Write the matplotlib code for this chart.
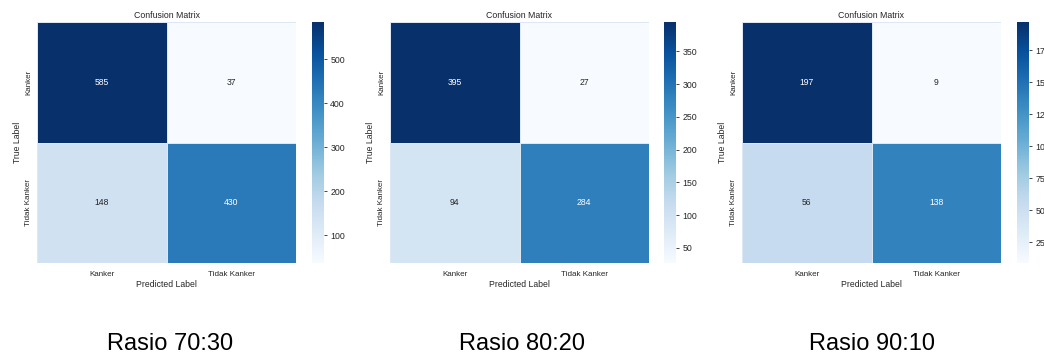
import numpy as np
import matplotlib
matplotlib.use("Agg")
import matplotlib.pyplot as plt
import seaborn as sns

# confusion matrices for each train/test split
labels = ["Kanker", "Tidak Kanker"]
cm_70_30 = [[585, 37], [148, 430]]
cm_80_20 = [[395, 27], [94, 284]]
cm_90_10 = [[197, 9], [56, 138]]
matrices = [cm_70_30, cm_80_20, cm_90_10]
captions = ["Rasio 70:30", "Rasio 80:20", "Rasio 90:10"]

plt.rcParams["font.family"] = ["Liberation Sans", "DejaVu Sans"]
TXT = "#262626"

W, H = 1044, 358
fig = plt.figure(figsize=(W / 100, H / 100), dpi=100)

hm_left = [37, 390, 742]
cb_left = [312, 664, 1017]
top, bottom = 22, 263

for i, cm in enumerate(matrices):
    ax = fig.add_axes([hm_left[i] / W, (H - bottom) / H, 259 / W, (bottom - top) / H])
    cax = fig.add_axes([cb_left[i] / W, (H - bottom) / H, 12 / W, (bottom - top) / H])
    sns.heatmap(np.array(cm), annot=True, fmt="d", cmap="Blues", ax=ax, cbar_ax=cax,
                xticklabels=labels, yticklabels=labels,
                linewidths=0.5, linecolor="#dce8f4",
                annot_kws={"fontsize": 6.2})
    ax.set_title("Confusion Matrix", fontsize=6.3, color=TXT, pad=3)
    ax.set_xlabel("Predicted Label", fontsize=6.2, color=TXT, labelpad=1)
    ax.set_ylabel("True Label", fontsize=6.2, color=TXT, labelpad=2.5)
    ax.tick_params(axis="both", length=0, labelsize=5.8, labelcolor=TXT, pad=6)
    ax.tick_params(axis="y", pad=3.5)
    plt.setp(ax.get_yticklabels(), rotation=90, va="center")
    cax.tick_params(axis="y", length=2.5, width=0.6, color=TXT, labelsize=6.3,
                    labelcolor=TXT, pad=2)
    cax.yaxis.set_ticks_position("right")

    fig.text([170, 522, 872][i] / W, 1 - 344 / H, captions[i], fontsize=17,
             ha="center", va="center", color="black")

fig.savefig("out.png", dpi=100, facecolor="white")
